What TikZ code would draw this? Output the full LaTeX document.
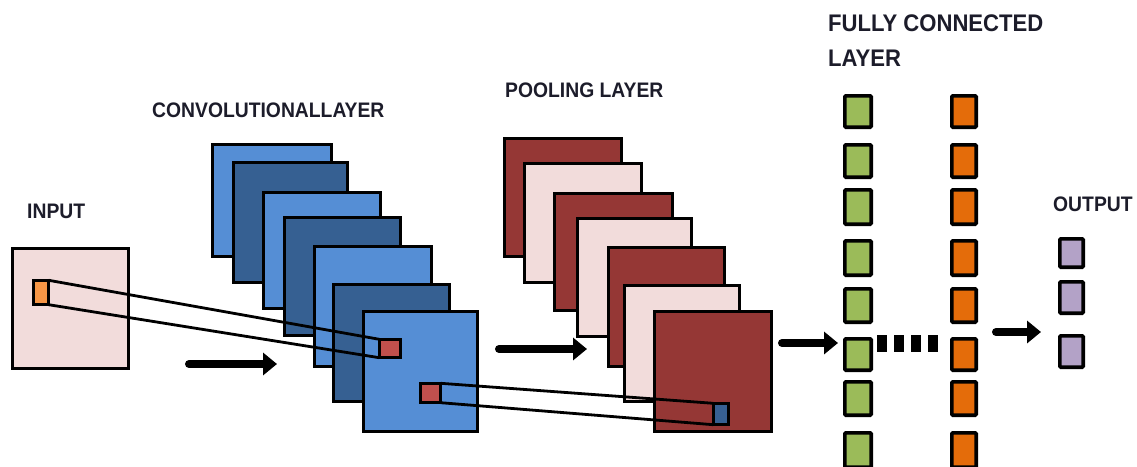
\documentclass[tikz,border=0pt]{standalone}
\usepackage{fontspec}
\setmainfont{Liberation Sans}
\newfontfamily\lblfont[FakeStretch=0.92]{Liberation Sans}
\usetikzlibrary{arrows.meta}
\definecolor{lblue}{HTML}{558ED5}
\definecolor{dblue}{HTML}{366092}
\definecolor{dred}{HTML}{953735}
\definecolor{lpink}{HTML}{F2DCDB}
\definecolor{fgreen}{HTML}{9BBB59}
\definecolor{forange}{HTML}{E46C0A}
\definecolor{fpurple}{HTML}{B3A2C7}
\definecolor{sorange}{HTML}{F79646}
\definecolor{sred}{HTML}{C0504D}
\definecolor{sblue}{HTML}{376092}
\definecolor{txt}{HTML}{1C1C2A}
% \rbox[style]{name}{fill}{x1}{y1}{x2}{y2}
\newcommand\rbox[7][]{%
  \node[#1, fill=#3, minimum width={(#6-#4)*1pt-\pgflinewidth}, minimum height={(#7-#5)*1pt-\pgflinewidth}]
    (#2) at ({(#4+#6)/2},{(#5+#7)/2}) {};}
\tikzset{
  fmap/.style={draw=black, line width=3.2pt, inner sep=0pt, outer sep=0pt},
  unit/.style={draw=black, line width=3.6pt, inner sep=0pt, outer sep=0pt, rounded corners=1pt},
  patch/.style={draw=black, line width=2.6pt, inner sep=0pt, outer sep=0pt},
  band/.style={draw=black, line width=2.8pt},
  flow/.style={line width=8pt, line cap=round, -{Triangle[length=14pt,width=22pt]}},
  dots/.style={line width=17pt, dash pattern=on 10pt off 7pt},
  lbl/.style={text=txt, inner sep=0pt, anchor=base west, font=\lblfont\fontsize{21}{24}\selectfont\bfseries},
  lblbig/.style={lbl, font=\lblfont\fontsize{24}{28}\selectfont\bfseries},
}
\begin{document}
\begin{tikzpicture}[x=1pt,y=-1pt]
\useasboundingbox (0,0) rectangle (1137,466);
% input
\rbox[fmap]{inp}{lpink}{11}{247}{130}{370}
% convolutional layers
\rbox[fmap]{c1}{lblue}{211}{143}{333}{258}
\rbox[fmap]{c2}{dblue}{232}{161}{349}{284}
\rbox[fmap]{c3}{lblue}{262}{191}{382}{310}
\rbox[fmap]{c4}{dblue}{283}{216}{402}{337}
\rbox[fmap]{c5}{lblue}{313}{245}{433}{368}
\rbox[fmap]{c6}{dblue}{332}{283}{451}{403}
\rbox[fmap]{c7}{lblue}{362}{310}{479}{433}
% pooling layers
\rbox[fmap]{p1}{dred}{503}{137}{623}{258}
\rbox[fmap]{p2}{lpink}{523}{162}{643}{284}
\rbox[fmap]{p3}{dred}{553}{192}{674}{312}
\rbox[fmap]{p4}{lpink}{576}{217}{693}{338}
\rbox[fmap]{p5}{dred}{607}{246}{726}{368}
\rbox[fmap]{p6}{lpink}{623}{284}{741}{403}
\rbox[fmap]{p7}{dred}{653}{310}{773}{433}
% small patches
\rbox[patch]{sin}{sorange}{32}{279}{50}{306}
\rbox[patch]{sc1}{sred}{378}{338}{402}{359}
\rbox[patch]{sc2}{sred}{419}{382}{442}{404}
\rbox[patch]{sp}{sblue}{712}{402}{730}{426}
% receptive field bands
\draw[band] (sin.north east) -- (sc1.north west);
\draw[band] (sin.south east) -- (sc1.south west);
\draw[band] (sc2.north east) -- (sp.north west);
\draw[band] (sc2.south east) -- (sp.south west);
% fully connected units
\rbox[unit]{g1}{fgreen}{843}{94}{873}{129}
\rbox[unit]{g2}{fgreen}{843}{143}{873}{179}
\rbox[unit]{g3}{fgreen}{843}{188}{873}{226}
\rbox[unit]{g4}{fgreen}{843}{239}{873}{277}
\rbox[unit]{g5}{fgreen}{843}{287}{873}{324}
\rbox[unit]{g6}{fgreen}{843}{337}{873}{372}
\rbox[unit]{g7}{fgreen}{843}{380}{873}{417}
\rbox[unit]{g8}{fgreen}{843}{431}{873}{469}
\rbox[unit]{o1}{forange}{950}{94}{978}{129}
\rbox[unit]{o2}{forange}{950}{143}{978}{179}
\rbox[unit]{o3}{forange}{950}{188}{978}{226}
\rbox[unit]{o4}{forange}{950}{239}{978}{277}
\rbox[unit]{o5}{forange}{950}{287}{978}{324}
\rbox[unit]{o6}{forange}{950}{337}{978}{372}
\rbox[unit]{o7}{forange}{950}{380}{978}{417}
\rbox[unit]{o8}{forange}{950}{431}{978}{469}
% output units
\rbox[unit]{u1}{fpurple}{1058}{237}{1085}{269}
\rbox[unit]{u2}{fpurple}{1058}{280}{1085}{315}
\rbox[unit]{u3}{fpurple}{1058}{334}{1085}{369}
% arrows
\coordinate (a1s) at (189,364); \coordinate (a1e) at (277,364);
\coordinate (a2s) at (499,349); \coordinate (a2e) at (587,349);
\coordinate (a3s) at (782,343); \coordinate (a3e) at (838,343);
\coordinate (a4s) at (996,332); \coordinate (a4e) at (1041,332);
\draw[flow] (a1s) -- (a1e);
\draw[flow] (a2s) -- (a2e);
\draw[flow] (a3s) -- (a3e);
\draw[flow] (a4s) -- (a4e);
% dotted link
\coordinate (d1) at (877,343); \coordinate (d2) at (940,343);
\draw[dots] (d1) -- (d2);
% labels
\node[lbl] (tin) at (27,218) {INPUT};
\node[lbl] (tconv) at (152,117) {CONVOLUTIONALLAYER};
\node[lbl] (tpool) at (505,97) {POOLING LAYER};
\node[lblbig] (tfc1) at (828,31) {FULLY CONNECTED};
\node[lblbig] (tfc2) at (828,66) {LAYER};
\node[lbl] (tout) at (1053,211) {OUTPUT};
\end{tikzpicture}
\end{document}
